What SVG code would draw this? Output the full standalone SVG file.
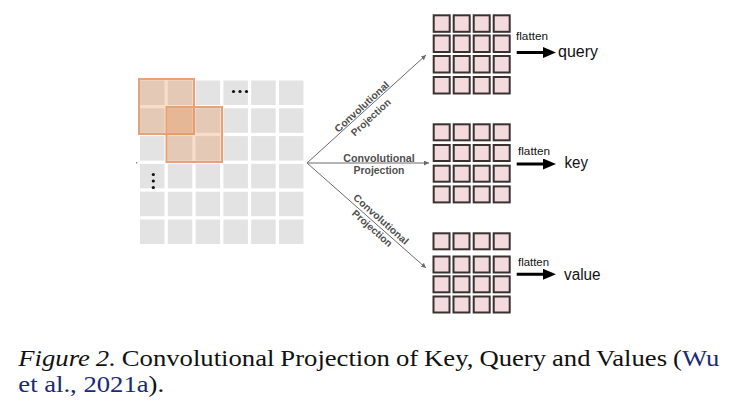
<svg xmlns="http://www.w3.org/2000/svg" width="736" height="417" viewBox="0 0 736 417">
<style>
.gc{fill:#e3e3e3}
.pc{fill:#f3dadd;stroke:#3a3131;stroke-width:2}
.lbl{font-family:"Liberation Sans",Arial,sans-serif;font-size:10px;font-weight:bold;fill:#4f4f4f}
.fl{font-family:"Liberation Sans",Arial,sans-serif;font-size:11px;fill:#111}
.out{font-family:"Liberation Sans",Arial,sans-serif;font-size:16px;fill:#111}
.thin{stroke:#6a6a6a;stroke-width:1;fill:none}
.thick{stroke:#000;stroke-width:3;fill:none}
.cap{font-family:"Liberation Serif","Times New Roman",serif;font-size:23px;fill:#111}
.cite{fill:#1b2a78}
.dot{fill:#111}
</style>
<defs>
<marker id="sm" markerUnits="userSpaceOnUse" markerWidth="6" markerHeight="6" refX="5" refY="2.5" orient="auto">
<path d="M0,0 L5,2.5 L0,5 z" fill="#6a6a6a"/>
</marker>
<marker id="big" markerUnits="userSpaceOnUse" markerWidth="14" markerHeight="12" refX="6" refY="5.5" orient="auto">
<path d="M0,0 L13,5.5 L0,11 z" fill="#000"/>
</marker>
</defs>
<rect width="736" height="417" fill="#fff"/>

<g id="input-grid">
<g class="gc">
<rect x="140" y="80.5" width="24.5" height="24.5"/><rect x="167.8" y="80.5" width="24.5" height="24.5"/><rect x="195.6" y="80.5" width="24.5" height="24.5"/><rect x="223.4" y="80.5" width="24.5" height="24.5"/><rect x="251.2" y="80.5" width="24.5" height="24.5"/><rect x="279" y="80.5" width="24.5" height="24.5"/>
<rect x="140" y="108.3" width="24.5" height="24.5"/><rect x="167.8" y="108.3" width="24.5" height="24.5"/><rect x="195.6" y="108.3" width="24.5" height="24.5"/><rect x="223.4" y="108.3" width="24.5" height="24.5"/><rect x="251.2" y="108.3" width="24.5" height="24.5"/><rect x="279" y="108.3" width="24.5" height="24.5"/>
<rect x="140" y="136.1" width="24.5" height="24.5"/><rect x="167.8" y="136.1" width="24.5" height="24.5"/><rect x="195.6" y="136.1" width="24.5" height="24.5"/><rect x="223.4" y="136.1" width="24.5" height="24.5"/><rect x="251.2" y="136.1" width="24.5" height="24.5"/><rect x="279" y="136.1" width="24.5" height="24.5"/>
<rect x="140" y="163.9" width="24.5" height="24.5"/><rect x="167.8" y="163.9" width="24.5" height="24.5"/><rect x="195.6" y="163.9" width="24.5" height="24.5"/><rect x="223.4" y="163.9" width="24.5" height="24.5"/><rect x="251.2" y="163.9" width="24.5" height="24.5"/><rect x="279" y="163.9" width="24.5" height="24.5"/>
<rect x="140" y="191.7" width="24.5" height="24.5"/><rect x="167.8" y="191.7" width="24.5" height="24.5"/><rect x="195.6" y="191.7" width="24.5" height="24.5"/><rect x="223.4" y="191.7" width="24.5" height="24.5"/><rect x="251.2" y="191.7" width="24.5" height="24.5"/><rect x="279" y="191.7" width="24.5" height="24.5"/>
<rect x="140" y="219.5" width="24.5" height="24.5"/><rect x="167.8" y="219.5" width="24.5" height="24.5"/><rect x="195.6" y="219.5" width="24.5" height="24.5"/><rect x="223.4" y="219.5" width="24.5" height="24.5"/><rect x="251.2" y="219.5" width="24.5" height="24.5"/><rect x="279" y="219.5" width="24.5" height="24.5"/>
</g>
<rect x="139" y="79" width="55" height="55" fill="#e8904e" fill-opacity="0.3" stroke="#e5a377" stroke-width="2"/>
<rect x="166.5" y="107" width="55.5" height="55" fill="#e8904e" fill-opacity="0.3" stroke="#e5a377" stroke-width="2"/>
<circle class="dot" cx="233.5" cy="91.5" r="1.6"/><circle class="dot" cx="240" cy="91.5" r="1.6"/><circle class="dot" cx="246.5" cy="91.5" r="1.6"/>
<circle class="dot" cx="153.3" cy="174.5" r="1.6"/><circle class="dot" cx="153.3" cy="181" r="1.6"/><circle class="dot" cx="153.3" cy="187.5" r="1.6"/>
<circle cx="136.7" cy="162.7" r="0.7" fill="#666"/>
</g>

<g id="connectors">
<line class="thin" x1="307" y1="163" x2="426" y2="55" marker-end="url(#sm)"/>
<line class="thin" x1="307" y1="163" x2="429" y2="163" marker-end="url(#sm)"/>
<line class="thin" x1="307" y1="163" x2="426" y2="268" marker-end="url(#sm)"/>
<line class="thick" x1="516.7" y1="52.5" x2="549" y2="52.5" marker-end="url(#big)"/>
<line class="thick" x1="516.7" y1="164" x2="549" y2="164" marker-end="url(#big)"/>
<line class="thick" x1="516.7" y1="274.3" x2="549" y2="274.3" marker-end="url(#big)"/>
</g>

<g id="label-top">
<text class="lbl" text-anchor="middle" textLength="70" lengthAdjust="spacingAndGlyphs" transform="translate(364.1,109.3) rotate(-42.5)">Convolutional</text>
<text class="lbl" text-anchor="middle" textLength="50" lengthAdjust="spacingAndGlyphs" transform="translate(373.1,119.9) rotate(-42.5)">Projection</text>
</g>
<g id="label-mid">
<text class="lbl" x="379" y="161.5" text-anchor="middle" textLength="71.5" lengthAdjust="spacingAndGlyphs">Convolutional</text>
<text class="lbl" x="379" y="174" text-anchor="middle" textLength="51" lengthAdjust="spacingAndGlyphs">Projection</text>
</g>
<g id="label-bot">
<text class="lbl" text-anchor="middle" textLength="70" lengthAdjust="spacingAndGlyphs" transform="translate(378.7,221.9) rotate(41.7)">Convolutional</text>
<text class="lbl" text-anchor="middle" textLength="50" lengthAdjust="spacingAndGlyphs" transform="translate(370,230.9) rotate(41.7)">Projection</text>
</g>

<g id="query-grid" class="pc">
<rect x="433.7" y="15.3" width="16" height="16.5"/><rect x="453.7" y="15.3" width="16" height="16.5"/><rect x="473.7" y="15.3" width="16" height="16.5"/><rect x="493.7" y="15.3" width="16" height="16.5"/>
<rect x="433.7" y="35.5" width="16" height="16.5"/><rect x="453.7" y="35.5" width="16" height="16.5"/><rect x="473.7" y="35.5" width="16" height="16.5"/><rect x="493.7" y="35.5" width="16" height="16.5"/>
<rect x="433.7" y="56" width="16" height="16.5"/><rect x="453.7" y="56" width="16" height="16.5"/><rect x="473.7" y="56" width="16" height="16.5"/><rect x="493.7" y="56" width="16" height="16.5"/>
<rect x="433.7" y="77" width="16" height="16.5"/><rect x="453.7" y="77" width="16" height="16.5"/><rect x="473.7" y="77" width="16" height="16.5"/><rect x="493.7" y="77" width="16" height="16.5"/>
</g>
<g id="key-grid" class="pc">
<rect x="433.7" y="124.3" width="16" height="16"/><rect x="453.7" y="124.3" width="16" height="16"/><rect x="473.7" y="124.3" width="16" height="16"/><rect x="493.7" y="124.3" width="16" height="16"/>
<rect x="433.7" y="145" width="16" height="16"/><rect x="453.7" y="145" width="16" height="16"/><rect x="473.7" y="145" width="16" height="16"/><rect x="493.7" y="145" width="16" height="16"/>
<rect x="433.7" y="165.7" width="16" height="16"/><rect x="453.7" y="165.7" width="16" height="16"/><rect x="473.7" y="165.7" width="16" height="16"/><rect x="493.7" y="165.7" width="16" height="16"/>
<rect x="433.7" y="186.4" width="16" height="16"/><rect x="453.7" y="186.4" width="16" height="16"/><rect x="473.7" y="186.4" width="16" height="16"/><rect x="493.7" y="186.4" width="16" height="16"/>
</g>
<g id="value-grid" class="pc">
<rect x="433.5" y="233.3" width="16" height="16"/><rect x="453.5" y="233.3" width="16" height="16"/><rect x="473.7" y="233.3" width="16" height="16"/><rect x="493.7" y="233.3" width="16" height="16"/>
<rect x="433.5" y="256.5" width="16" height="16"/><rect x="453.5" y="256.5" width="16" height="16"/><rect x="473.7" y="256.5" width="16" height="16"/><rect x="493.7" y="256.5" width="16" height="16"/>
<rect x="433.5" y="276.3" width="16" height="16"/><rect x="453.5" y="276.3" width="16" height="16"/><rect x="473.7" y="276.3" width="16" height="16"/><rect x="493.7" y="276.3" width="16" height="16"/>
<rect x="433.5" y="296.5" width="16" height="16"/><rect x="453.5" y="296.5" width="16" height="16"/><rect x="473.7" y="296.5" width="16" height="16"/><rect x="493.7" y="296.5" width="16" height="16"/>
</g>

<g id="query-out">
<text class="fl" x="516" y="39.5" textLength="32" lengthAdjust="spacingAndGlyphs">flatten</text>
<text class="out" x="558" y="57" textLength="40" lengthAdjust="spacingAndGlyphs">query</text>
</g>
<g id="key-out">
<text class="fl" x="518" y="155" textLength="32" lengthAdjust="spacingAndGlyphs">flatten</text>
<text class="out" x="564.5" y="167.5" textLength="23.5" lengthAdjust="spacingAndGlyphs">key</text>
</g>
<g id="value-out">
<text class="fl" x="518" y="265.7" textLength="31" lengthAdjust="spacingAndGlyphs">flatten</text>
<text class="out" x="564" y="279.5" textLength="36.5" lengthAdjust="spacingAndGlyphs">value</text>
</g>

<g id="caption" transform="translate(18.3,366) scale(1.16,1)">
<text class="cap" x="0" y="0" word-spacing="-0.6"><tspan font-style="italic">Figure 2.</tspan> Convolutional Projection of Key, Query and Values (<tspan class="cite">Wu</tspan></text>
<text class="cap" x="0" y="26"><tspan class="cite">et al., 2021a</tspan>).</text>
</g>
</svg>
